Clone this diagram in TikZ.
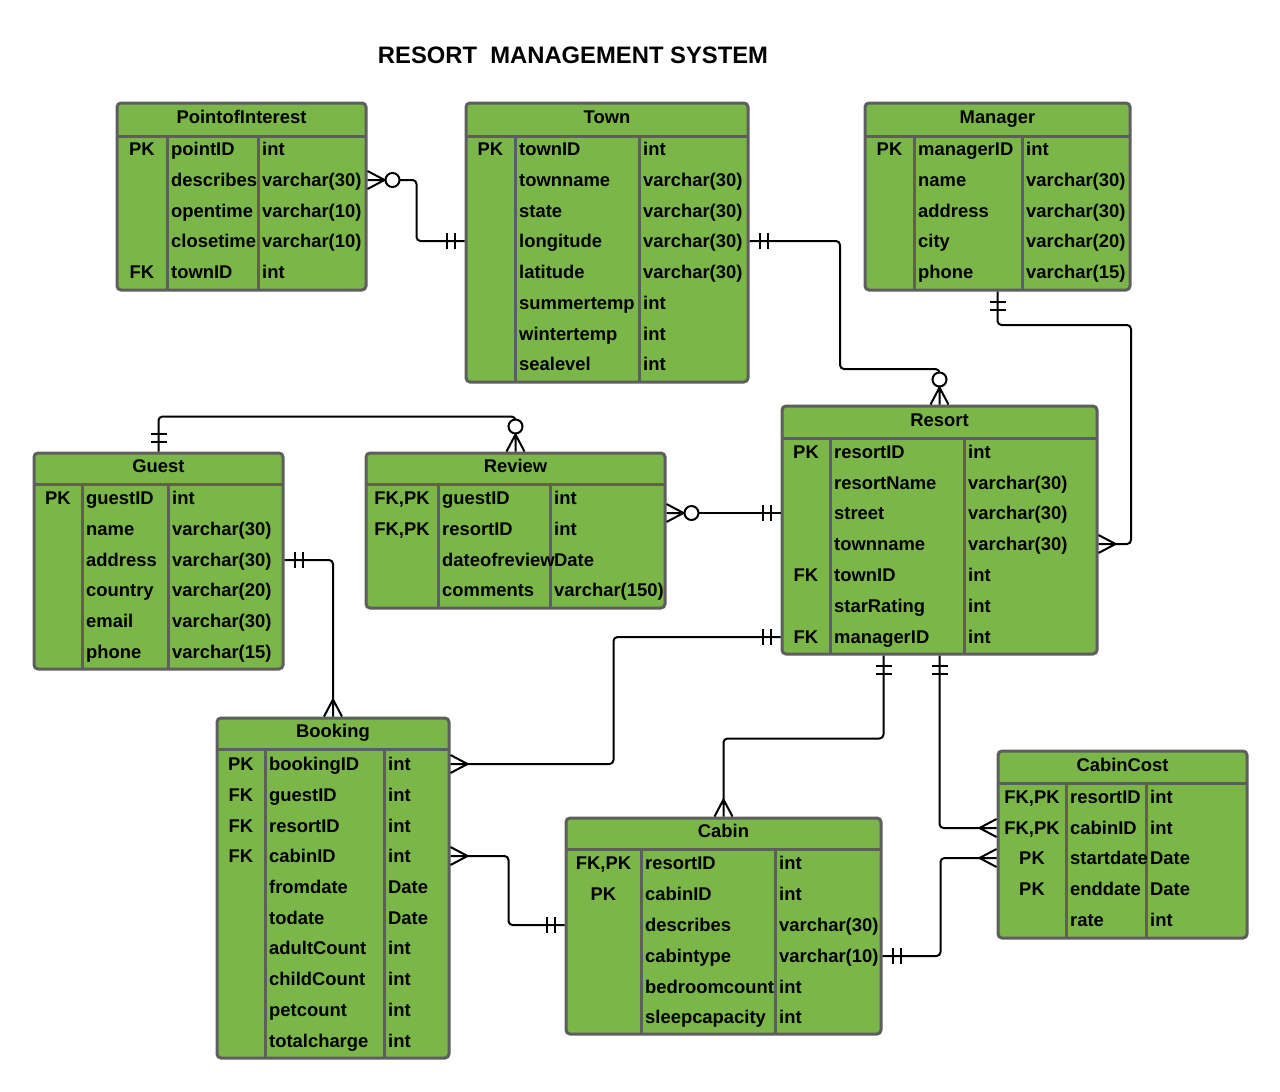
\documentclass[tikz,border=0pt]{standalone}
\usepackage{fontspec}
\setmainfont{Liberation Sans}
\usetikzlibrary{arrows.meta,fit}

\definecolor{tblgreen}{HTML}{7AB648}
\definecolor{tblborder}{HTML}{5E5E5E}
\newcommand{\erfont}{\fontsize{18.4}{22}\selectfont\bfseries}

% crow's foot (many) and double bar (one and only one)
\pgfdeclarearrow{
  name = crowfoot,
  setup code = {
    \pgfarrowssettipend{0pt}
    \pgfarrowssetlineend{-17pt}
    \pgfarrowssetbackend{-17pt}
    \pgfarrowsupperhullpoint{0pt}{9pt}
    \pgfarrowsupperhullpoint{-17pt}{0pt}
  },
  drawing code = {
    \pgfpathmoveto{\pgfqpoint{0pt}{9pt}}
    \pgfpathlineto{\pgfqpoint{-17pt}{0pt}}
    \pgfpathlineto{\pgfqpoint{0pt}{-9pt}}
    \pgfpathmoveto{\pgfqpoint{0pt}{0pt}}
    \pgfpathlineto{\pgfqpoint{-17pt}{0pt}}
    \pgfusepathqstroke
  }
}
\pgfdeclarearrow{
  name = onebar,
  setup code = {
    \pgfarrowssettipend{0pt}
    \pgfarrowssetlineend{0pt}
    \pgfarrowssetbackend{-20pt}
    \pgfarrowsupperhullpoint{0pt}{8pt}
    \pgfarrowsupperhullpoint{-20pt}{8pt}
  },
  drawing code = {
    \pgfpathmoveto{\pgfqpoint{-10pt}{8pt}}
    \pgfpathlineto{\pgfqpoint{-10pt}{-8pt}}
    \pgfpathmoveto{\pgfqpoint{-18pt}{8pt}}
    \pgfpathlineto{\pgfqpoint{-18pt}{-8pt}}
    \pgfusepathqstroke
  }
}

\tikzset{
  tbl/.style={draw=tblborder, fill=tblgreen, line width=3pt, rounded corners=4pt, inner sep=0pt},
  grid/.style={draw=tblborder, line width=3pt},
  head/.style={inner sep=0pt, text height=13pt, text depth=0pt, font=\erfont},
  fld/.style={anchor=west, inner sep=0pt, text height=13pt, text depth=0pt, font=\erfont},
  key/.style={inner sep=0pt, text height=13pt, text depth=0pt, font=\erfont},
  rel/.style={draw=black, line width=2pt, rounded corners=4pt},
}

\begin{document}
\begin{tikzpicture}[x=1pt, y=-1pt]
\useasboundingbox (0,0) rectangle (1280,1092);
\node[font=\fontsize{23.8}{28}\selectfont\bfseries] (title) at (573,55) {RESORT~~MANAGEMENT SYSTEM};

% PointofInterest
\node[tbl, fit={(117,103) (366,290)}] (poi) {};
\draw[grid] (117,136) -- (366,136);
\draw[grid] (167,136) -- (167,290);
\draw[grid] (258,136) -- (258,290);
\node[head] (poi-h) at (241.5,117) {PointofInterest};
\node[key] (poi-k1) at (142,149) {PK};
\node[key] (poi-k5) at (142,272) {FK};
\node[fld] (poi-f1) at (171,149) {pointID};     \node[fld] (poi-t1) at (262,149) {int};
\node[fld] (poi-f2) at (171,180) {describes};   \node[fld] (poi-t2) at (262,180) {varchar(30)};
\node[fld] (poi-f3) at (171,211) {opentime};    \node[fld] (poi-t3) at (262,211) {varchar(10)};
\node[fld] (poi-f4) at (171,241) {closetime};   \node[fld] (poi-t4) at (262,241) {varchar(10)};
\node[fld] (poi-f5) at (171,272) {townID};      \node[fld] (poi-t5) at (262,272) {int};

% Town
\node[tbl, fit={(466,103) (748,382)}] (town) {};
\draw[grid] (466,136) -- (748,136);
\draw[grid] (515,136) -- (515,382);
\draw[grid] (639,136) -- (639,382);
\node[head] (town-h) at (607,117) {Town};
\node[key] (town-k1) at (490.5,149) {PK};
\node[fld] (town-f1) at (519,149) {townID};      \node[fld] (town-t1) at (643,149) {int};
\node[fld] (town-f2) at (519,180) {townname};    \node[fld] (town-t2) at (643,180) {varchar(30)};
\node[fld] (town-f3) at (519,211) {state};       \node[fld] (town-t3) at (643,211) {varchar(30)};
\node[fld] (town-f4) at (519,241) {longitude};   \node[fld] (town-t4) at (643,241) {varchar(30)};
\node[fld] (town-f5) at (519,272) {latitude};    \node[fld] (town-t5) at (643,272) {varchar(30)};
\node[fld] (town-f6) at (519,303) {summertemp};  \node[fld] (town-t6) at (643,303) {int};
\node[fld] (town-f7) at (519,334) {wintertemp};  \node[fld] (town-t7) at (643,334) {int};
\node[fld] (town-f8) at (519,364) {sealevel};    \node[fld] (town-t8) at (643,364) {int};

% Manager
\node[tbl, fit={(865,103) (1130,290)}] (mgr) {};
\draw[grid] (865,136) -- (1130,136);
\draw[grid] (914,136) -- (914,290);
\draw[grid] (1022,136) -- (1022,290);
\node[head] (mgr-h) at (997.5,117) {Manager};
\node[key] (mgr-k1) at (889.5,149) {PK};
\node[fld] (mgr-f1) at (918,149) {managerID};    \node[fld] (mgr-t1) at (1026,149) {int};
\node[fld] (mgr-f2) at (918,180) {name};         \node[fld] (mgr-t2) at (1026,180) {varchar(30)};
\node[fld] (mgr-f3) at (918,211) {address};      \node[fld] (mgr-t3) at (1026,211) {varchar(30)};
\node[fld] (mgr-f4) at (918,241) {city};         \node[fld] (mgr-t4) at (1026,241) {varchar(20)};
\node[fld] (mgr-f5) at (918,272) {phone};        \node[fld] (mgr-t5) at (1026,272) {varchar(15)};

% Resort
\node[tbl, fit={(782,406) (1097,654)}] (resort) {};
\draw[grid] (782,438) -- (1097,438);
\draw[grid] (830,438) -- (830,654);
\draw[grid] (964,438) -- (964,654);
\node[head] (resort-h) at (939.5,420) {Resort};
\node[key] (resort-k1) at (806,452) {PK};
\node[key] (resort-k5) at (806,575) {FK};
\node[key] (resort-k7) at (806,637) {FK};
\node[fld] (resort-f1) at (834,452) {resortID};    \node[fld] (resort-t1) at (968,452) {int};
\node[fld] (resort-f2) at (834,483) {resortName};  \node[fld] (resort-t2) at (968,483) {varchar(30)};
\node[fld] (resort-f3) at (834,513) {street};      \node[fld] (resort-t3) at (968,513) {varchar(30)};
\node[fld] (resort-f4) at (834,544) {townname};    \node[fld] (resort-t4) at (968,544) {varchar(30)};
\node[fld] (resort-f5) at (834,575) {townID};      \node[fld] (resort-t5) at (968,575) {int};
\node[fld] (resort-f6) at (834,606) {starRating};  \node[fld] (resort-t6) at (968,606) {int};
\node[fld] (resort-f7) at (834,637) {managerID};   \node[fld] (resort-t7) at (968,637) {int};

% Guest
\node[tbl, fit={(34,453) (283,669)}] (guest) {};
\draw[grid] (34,484) -- (283,484);
\draw[grid] (82,484) -- (82,669);
\draw[grid] (168,484) -- (168,669);
\node[head] (guest-h) at (158.5,466) {Guest};
\node[key] (guest-k1) at (58,498) {PK};
\node[fld] (guest-f1) at (86,498) {guestID};     \node[fld] (guest-t1) at (172,498) {int};
\node[fld] (guest-f2) at (86,529) {name};        \node[fld] (guest-t2) at (172,529) {varchar(30)};
\node[fld] (guest-f3) at (86,560) {address};     \node[fld] (guest-t3) at (172,560) {varchar(30)};
\node[fld] (guest-f4) at (86,590) {country};     \node[fld] (guest-t4) at (172,590) {varchar(20)};
\node[fld] (guest-f5) at (86,621) {email};       \node[fld] (guest-t5) at (172,621) {varchar(30)};
\node[fld] (guest-f6) at (86,652) {phone};       \node[fld] (guest-t6) at (172,652) {varchar(15)};

% Review
\node[tbl, fit={(366,453) (665,608)}] (review) {};
\draw[grid] (366,484) -- (665,484);
\draw[grid] (438,484) -- (438,608);
\draw[grid] (550,484) -- (550,608);
\node[head] (review-h) at (515.5,466) {Review};
\node[key] (review-k1) at (402,498) {FK,PK};
\node[key] (review-k2) at (402,529) {FK,PK};
\node[fld] (review-f1) at (442,498) {guestID};       \node[fld] (review-t1) at (554,498) {int};
\node[fld] (review-f2) at (442,529) {resortID};      \node[fld] (review-t2) at (554,529) {int};
\node[fld] (review-f3) at (442,560) {dateofreview};  \node[fld] (review-t3) at (554,560) {Date};
\node[fld] (review-f4) at (442,590) {comments};      \node[fld] (review-t4) at (554,590) {varchar(150)};

% Booking
\node[tbl, fit={(217,718) (449,1058)}] (booking) {};
\draw[grid] (217,749) -- (449,749);
\draw[grid] (265,749) -- (265,1058);
\draw[grid] (384,749) -- (384,1058);
\node[head] (booking-h) at (333,731) {Booking};
\node[key] (booking-k1) at (241,764) {PK};
\node[key] (booking-k2) at (241,795) {FK};
\node[key] (booking-k3) at (241,826) {FK};
\node[key] (booking-k4) at (241,856) {FK};
\node[fld] (booking-f1) at (269,764) {bookingID};     \node[fld] (booking-t1) at (388,764) {int};
\node[fld] (booking-f2) at (269,795) {guestID};       \node[fld] (booking-t2) at (388,795) {int};
\node[fld] (booking-f3) at (269,826) {resortID};      \node[fld] (booking-t3) at (388,826) {int};
\node[fld] (booking-f4) at (269,856) {cabinID};       \node[fld] (booking-t4) at (388,856) {int};
\node[fld] (booking-f5) at (269,887) {fromdate};      \node[fld] (booking-t5) at (388,887) {Date};
\node[fld] (booking-f6) at (269,918) {todate};        \node[fld] (booking-t6) at (388,918) {Date};
\node[fld] (booking-f7) at (269,948) {adultCount};    \node[fld] (booking-t7) at (388,948) {int};
\node[fld] (booking-f8) at (269,979) {childCount};    \node[fld] (booking-t8) at (388,979) {int};
\node[fld] (booking-f9) at (269,1010) {petcount};     \node[fld] (booking-t9) at (388,1010) {int};
\node[fld] (booking-f10) at (269,1041) {totalcharge}; \node[fld] (booking-t10) at (388,1041) {int};

% Cabin
\node[tbl, fit={(566,818) (881,1034)}] (cabin) {};
\draw[grid] (566,849) -- (881,849);
\draw[grid] (641,849) -- (641,1034);
\draw[grid] (775,849) -- (775,1034);
\node[head] (cabin-h) at (723.5,831) {Cabin};
\node[key] (cabin-k1) at (603.5,863) {FK,PK};
\node[key] (cabin-k2) at (603.5,894) {PK};
\node[fld] (cabin-f1) at (645,863) {resortID};       \node[fld] (cabin-t1) at (779,863) {int};
\node[fld] (cabin-f2) at (645,894) {cabinID};        \node[fld] (cabin-t2) at (779,894) {int};
\node[fld] (cabin-f3) at (645,925) {describes};      \node[fld] (cabin-t3) at (779,925) {varchar(30)};
\node[fld] (cabin-f4) at (645,956) {cabintype};      \node[fld] (cabin-t4) at (779,956) {varchar(10)};
\node[fld] (cabin-f5) at (645,987) {bedroomcount};   \node[fld] (cabin-t5) at (779,987) {int};
\node[fld] (cabin-f6) at (645,1017) {sleepcapacity}; \node[fld] (cabin-t6) at (779,1017) {int};

% CabinCost
\node[tbl, fit={(998,751) (1247,938)}] (cc) {};
\draw[grid] (998,783) -- (1247,783);
\draw[grid] (1066,783) -- (1066,938);
\draw[grid] (1146,783) -- (1146,938);
\node[head] (cc-h) at (1122.5,765) {CabinCost};
\node[key] (cc-k1) at (1032,797) {FK,PK};
\node[key] (cc-k2) at (1032,828) {FK,PK};
\node[key] (cc-k3) at (1032,858) {PK};
\node[key] (cc-k4) at (1032,889) {PK};
\node[fld] (cc-f1) at (1070,797) {resortID};   \node[fld] (cc-t1) at (1150,797) {int};
\node[fld] (cc-f2) at (1070,828) {cabinID};    \node[fld] (cc-t2) at (1150,828) {int};
\node[fld] (cc-f3) at (1070,858) {startdate};  \node[fld] (cc-t3) at (1150,858) {Date};
\node[fld] (cc-f4) at (1070,889) {enddate};    \node[fld] (cc-t4) at (1150,889) {Date};
\node[fld] (cc-f5) at (1070,920) {rate};       \node[fld] (cc-t5) at (1150,920) {int};

% relationships
\draw[rel, {crowfoot[] Circle[length=16pt,fill=white]}-{onebar[]}] (poi.east |- poi-f2) -- ++(49,0) |- (town.west |- town-f4);
\draw[rel, {onebar[]}-{Circle[length=16pt,fill=white] crowfoot[]}] (town.east |- town-f4) -| (840,369) -| (resort.north);
\draw[rel, {onebar[]}-{crowfoot[]}] (mgr.south) |- (1131,325) |- (resort.east |- resort-f4);
\draw[rel, {onebar[]}-{Circle[length=16pt,fill=white] crowfoot[]}] (guest.north) -- ++(0,-35) -| (review.north);
\draw[rel, {crowfoot[] Circle[length=16pt,fill=white]}-{onebar[]}] (review.east |- resort-f3) -- (resort.west |- resort-f3);
\draw[rel, {onebar[]}-{crowfoot[]}] (guest.east |- guest-f3) -| (booking.north);
\draw[rel, {onebar[]}-{crowfoot[]}] (resort.west |- resort-f7) -- ++(-167,0) |- (booking.east |- booking-f1);
\draw[rel, {crowfoot[]}-{onebar[]}] (booking.east |- booking-f4) -- ++(58,0) |- (cabin.west |- cabin-f3);
\draw[rel, {onebar[]}-{crowfoot[]}] ([xshift=-56pt]resort.south) -- ++(0,83) -| (cabin.north);
\draw[rel, {onebar[]}-{crowfoot[]}] (resort.south) |- (cc.west |- cc-f2);
\draw[rel, {onebar[]}-{crowfoot[]}] (cabin.east |- cabin-f4) -- ++(58,0) |- (cc.west |- cc-f3);
\end{tikzpicture}
\end{document}
